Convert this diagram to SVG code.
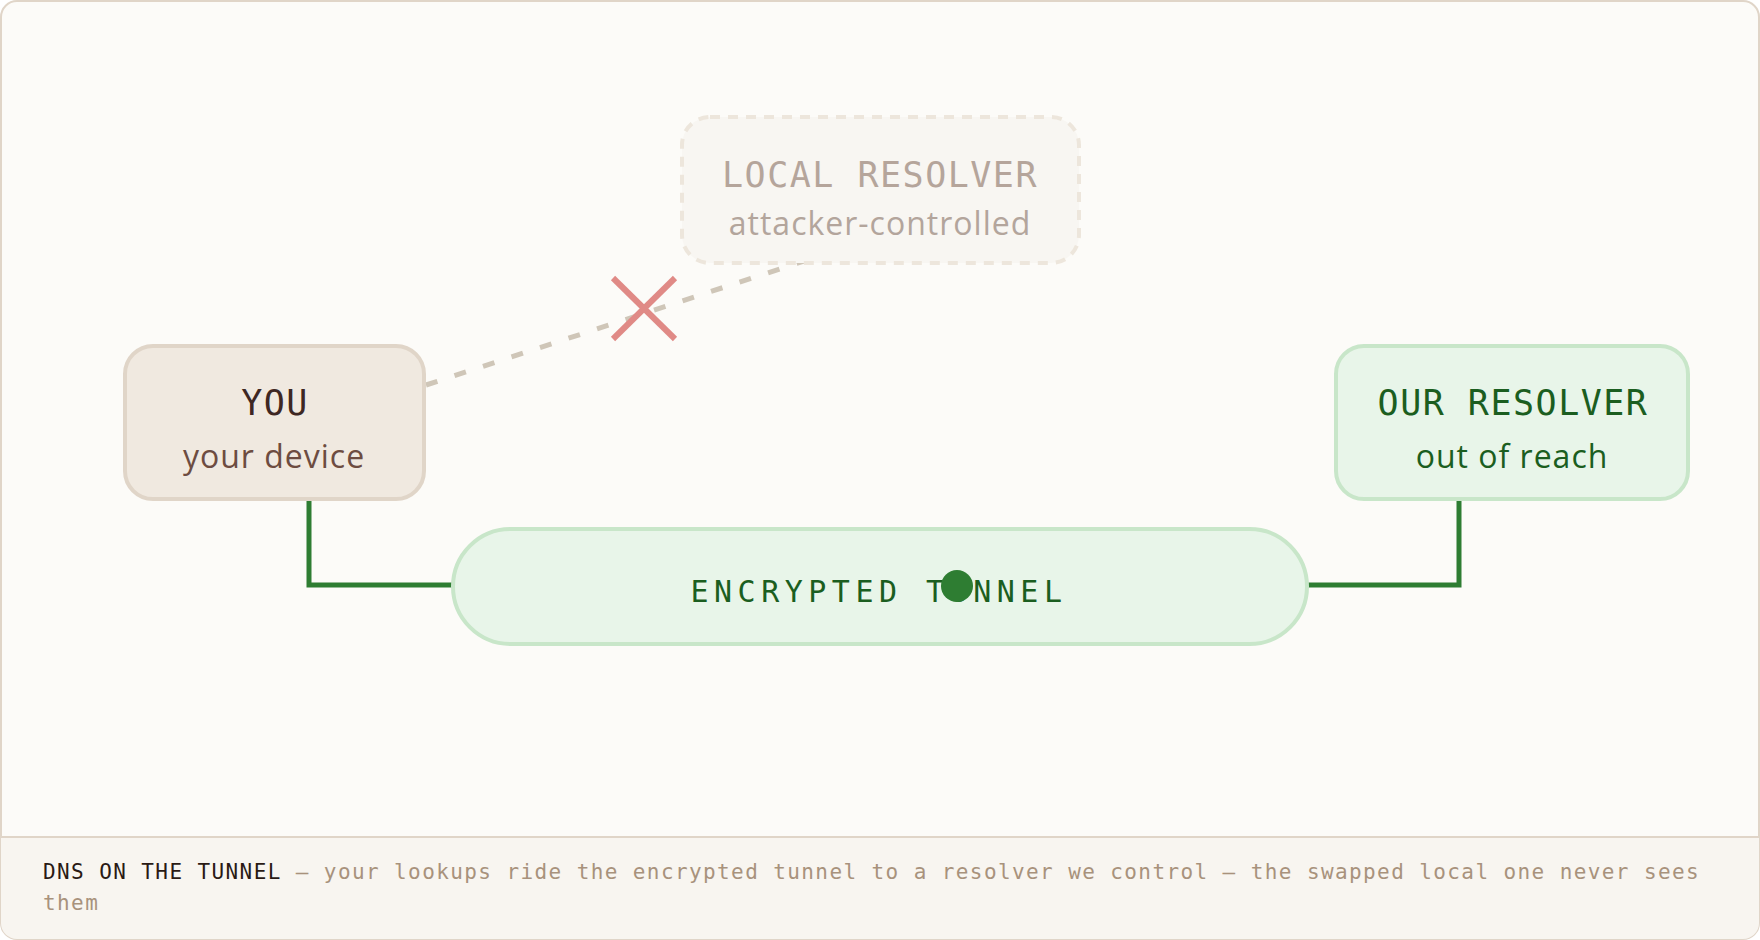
<svg xmlns="http://www.w3.org/2000/svg" width="1760" height="940" viewBox="0 0 1760 940">
<defs>
<style>
.title{font-family:"DejaVu Sans Mono","Liberation Mono",monospace;font-size:35px;letter-spacing:1.5px;text-anchor:middle}
.sub{font-family:"Open Sans","Noto Sans",sans-serif;font-size:32px;letter-spacing:1px;text-anchor:middle}
.wire{fill:none;stroke:#2e7d32;stroke-width:5}
.foot{font-family:"DejaVu Sans Mono","Liberation Mono",monospace;font-size:21px;letter-spacing:1.4px;fill:#a8927c}
</style>
</defs>
<rect x="1" y="1" width="1758" height="938" rx="16" fill="#fcfbf8" stroke="#e0d5c8" stroke-width="2"/>
<path d="M1 837 H1759 V923 a16 16 0 0 1 -16 16 H17 a16 16 0 0 1 -16 -16 Z" fill="#f8f5f0"/>
<line x1="1" y1="837" x2="1759" y2="837" stroke="#e0d5c8" stroke-width="2"/>

<g id="connectors">
<line x1="426" y1="385" x2="804" y2="261" stroke="#cfc6b8" stroke-width="5" stroke-dasharray="12 18"/>
<polyline class="wire" points="309,500 309,585 452,585"/>
<polyline class="wire" points="1308,585 1459,585 1459,500"/>
<g stroke="#e08a86" stroke-width="6">
<line x1="613" y1="278" x2="675" y2="339"/>
<line x1="675" y1="278" x2="613" y2="339"/>
</g>
</g>

<g id="local-resolver">
<rect x="682" y="117" width="397" height="146" rx="28" fill="#f8f6f2" stroke="#ede6dc" stroke-width="4" stroke-dasharray="10 8"/>
<text class="title" x="880" y="187" fill="#b5a59b">LOCAL RESOLVER</text>
<text class="sub" x="880" y="235" fill="#b3a59c">attacker-controlled</text>
</g>

<g id="you">
<rect x="125" y="346" width="299" height="153" rx="28" fill="#f0e9e0" stroke="#e0d5c8" stroke-width="4"/>
<text class="title" x="275" y="415" fill="#3e2723">YOU</text>
<text class="sub" x="274" y="468" fill="#6d4c41">your device</text>
</g>

<g id="our-resolver">
<rect x="1336" y="346" width="352" height="153" rx="28" fill="#e8f5e9" stroke="#c8e6c9" stroke-width="4"/>
<text class="title" x="1513" y="415" fill="#1b5e20">OUR RESOLVER</text>
<text class="sub" x="1512" y="468" fill="#1b5e20">out of reach</text>
</g>

<g id="tunnel">
<rect x="453" y="529" width="854" height="115" rx="57.5" fill="#e8f5e9" stroke="#c8e6c9" stroke-width="4"/>
<text x="879" y="602" font-family="DejaVu Sans Mono,Liberation Mono,monospace" font-size="30" letter-spacing="5.5" text-anchor="middle" fill="#1b5e20">ENCRYPTED TUNNEL</text>
<circle cx="957" cy="586" r="16" fill="#2e7d32"/>
</g>

<g id="footer">
<text class="foot" x="43" y="879"><tspan fill="#2a1a14">DNS ON THE TUNNEL</tspan> — your lookups ride the encrypted tunnel to a resolver we control — the swapped local one never sees</text>
<text class="foot" x="43" y="910">them</text>
</g>
</svg>
